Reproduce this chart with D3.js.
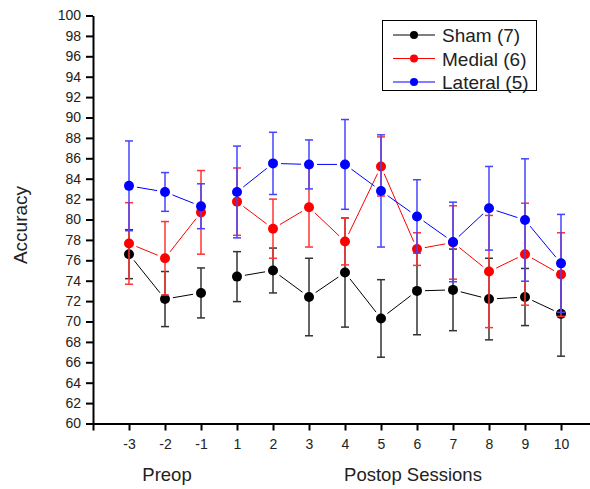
<!DOCTYPE html>
<html>
<head>
<meta charset="utf-8">
<script src="https://cdn.jsdelivr.net/npm/d3@7"></script>
<style>
    body { margin: 0; background: #fff; }
    text { font-family: 'Liberation Sans', Arial, sans-serif; fill: #222; }
</style>
</head>
<body>
<script>
const w = 590
const h = 489

// sessions on the x axis
const sessions = ['-3', '-2', '-1', '1', '2', '3', '4', '5', '6', '7', '8', '9', '10']
const preop = ['-3', '-2', '-1']
const postop = ['1', '2', '3', '4', '5', '6', '7', '8', '9', '10']

// group means and error bars
const shamMean = [76.6, 72.2, 72.8, 74.4, 75.0, 72.4, 74.8, 70.3, 73.0, 73.1, 72.2, 72.4, 70.75]
const shamErr = [2.4, 2.7, 2.45, 2.45, 2.2, 3.8, 5.35, 3.8, 4.3, 4.0, 4.0, 2.8, 4.15]
const medialMean = [77.65, 76.2, 80.7, 81.75, 79.1, 81.2, 77.85, 85.2, 77.1, 77.75, 74.9, 76.6, 74.6]
const medialErr = [4.0, 3.6, 4.1, 3.3, 2.9, 3.9, 2.3, 2.9, 1.6, 3.6, 5.5, 5.0, 4.1]
const lateralMean = [83.3, 82.7, 81.3, 82.7, 85.5, 85.4, 85.4, 82.8, 80.3, 77.8, 81.1, 79.95, 75.7]
const lateralErr = [4.4, 1.9, 2.2, 4.5, 3.05, 2.4, 4.4, 5.5, 3.6, 3.9, 4.1, 6.0, 4.8]

const seriesNames = ['Sham (7)', 'Medial (6)', 'Lateral (5)']
const seriesColors = ['#000', '#f00', '#00f']
const barColors = ['#333', '#f33', '#44f']

const yTicks = d3.range(60, 101, 2)

const series = [
    { name: seriesNames[0], color: seriesColors[0], bar: barColors[0], mean: shamMean, err: shamErr },
    { name: seriesNames[1], color: seriesColors[1], bar: barColors[1], mean: medialMean, err: medialErr },
    { name: seriesNames[2], color: seriesColors[2], bar: barColors[2], mean: lateralMean, err: lateralErr }
]

const xScale = d3.scalePoint()
    .domain(sessions)
    .range([93, 597])
    .padding(1)

const yScale = d3.scaleLinear()
    .domain([60, 100])
    .range([423.5, 15.5])

const svg = d3.select('body')
    .append('svg')
    .attr('width', w)
    .attr('height', h)

// axes
const yAxis = svg.append('g')
    .attr('transform', `translate(${xScale.range()[0]},0)`)
    .call(d3.axisLeft(yScale).tickValues(yTicks).tickSize(7).tickSizeOuter(0).tickPadding(5))
yAxis.selectAll('line, path').attr('stroke', '#000').attr('stroke-width', 2)
yAxis.selectAll('text').attr('font-size', 14).attr('fill', '#222')
    .style('font-family', "'Liberation Sans', Arial, sans-serif")

const xAxis = svg.append('g')
    .attr('transform', `translate(0,${yScale(60)})`)
    .call(d3.axisBottom(xScale).tickSize(7).tickSizeOuter(7).tickPadding(9))
xAxis.selectAll('line, path').attr('stroke', '#000').attr('stroke-width', 2)
xAxis.selectAll('text').attr('font-size', 14).attr('fill', '#222')
    .style('font-family', "'Liberation Sans', Arial, sans-serif")

svg.append('text')
    .attr('transform', `translate(27,225) rotate(-90)`)
    .attr('text-anchor', 'middle')
    .attr('font-size', 19)
    .text('Accuracy')

svg.append('text')
    .attr('x', xScale('-2') + 2)
    .attr('y', 481)
    .attr('text-anchor', 'middle')
    .attr('font-size', 18.5)
    .text('Preop')

svg.append('text')
    .attr('x', xScale('5') + 32)
    .attr('y', 481)
    .attr('text-anchor', 'middle')
    .attr('font-size', 18.5)
    .text('Postop Sessions')

// connecting lines, with a small gap around each marker
function segments (s, group) {
    const pts = group.map(function (c) {
        const i = sessions.indexOf(c)
        return [xScale(c), yScale(s.mean[i])]
    })
    const gap = 8
    const out = []
    for (let i = 0; i < pts.length - 1; i++) {
        const [x1, y1] = pts[i]
        const [x2, y2] = pts[i + 1]
        const len = Math.hypot(x2 - x1, y2 - y1)
        if (len <= 2 * gap) continue
        const ux = (x2 - x1) / len
        const uy = (y2 - y1) / len
        out.push([x1 + ux * gap, y1 + uy * gap, x2 - ux * gap, y2 - uy * gap])
    }
    return out
}

series.forEach(function (s) {
    const g = svg.append('g')

    const segs = segments(s, preop).concat(segments(s, postop))
    g.selectAll('line.conn')
        .data(segs)
        .enter()
        .append('line')
        .attr('class', 'conn')
        .attr('x1', function (d) { return d[0] })
        .attr('y1', function (d) { return d[1] })
        .attr('x2', function (d) { return d[2] })
        .attr('y2', function (d) { return d[3] })
        .attr('stroke', s.color)
        .attr('stroke-width', 1)

    const bars = g.selectAll('g.bar')
        .data(sessions)
        .enter()
        .append('g')
        .attr('class', 'bar')

    bars.append('line')
        .attr('x1', function (d) { return xScale(d) })
        .attr('x2', function (d) { return xScale(d) })
        .attr('y1', function (d, i) { return yScale(s.mean[i] + s.err[i]) })
        .attr('y2', function (d, i) { return yScale(s.mean[i] - s.err[i]) })
        .attr('stroke', s.bar)
        .attr('stroke-width', 1.5)

    bars.selectAll('line.cap')
        .data(function (d, i) {
            return [[d, s.mean[i] + s.err[i]], [d, s.mean[i] - s.err[i]]]
        })
        .enter()
        .append('line')
        .attr('class', 'cap')
        .attr('x1', function (d) { return xScale(d[0]) - 4 })
        .attr('x2', function (d) { return xScale(d[0]) + 4 })
        .attr('y1', function (d) { return yScale(d[1]) })
        .attr('y2', function (d) { return yScale(d[1]) })
        .attr('stroke', s.bar)
        .attr('stroke-width', 1.5)

    g.selectAll('circle')
        .data(sessions)
        .enter()
        .append('circle')
        .attr('cx', function (d) { return xScale(d) })
        .attr('cy', function (d, i) { return yScale(s.mean[i]) })
        .attr('r', 5)
        .attr('fill', s.color)
})

// legend
const legend = svg.append('g')
legend.append('rect')
    .attr('x', 382.5)
    .attr('y', 20.5)
    .attr('width', 154)
    .attr('height', 70)
    .attr('fill', '#fff')
    .attr('stroke', '#000')
    .attr('stroke-width', 1)

const rows = legend.selectAll('g.row')
    .data(series)
    .enter()
    .append('g')
    .attr('class', 'row')
    .attr('transform', function (d, i) { return `translate(0,${35 + i * 23.5})` })

rows.append('line')
    .attr('x1', 393)
    .attr('x2', 435)
    .attr('stroke', function (d) { return d.color })
    .attr('stroke-width', 1)
rows.append('circle')
    .attr('cx', 414)
    .attr('r', 4)
    .attr('fill', function (d) { return d.color })
rows.append('text')
    .attr('x', 442)
    .attr('y', 7)
    .attr('font-size', 19)
    .text(function (d) { return d.name })
</script>
</body>
</html>
